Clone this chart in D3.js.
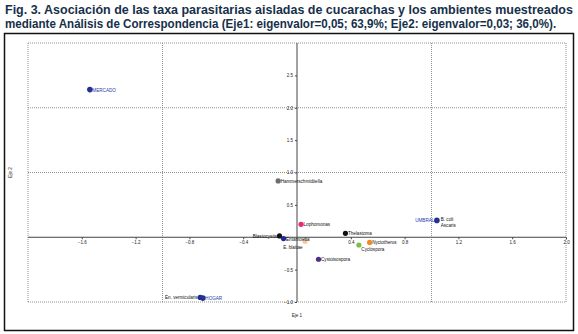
<!DOCTYPE html>
<html>
<head>
<meta charset="utf-8">
<script src="https://cdn.jsdelivr.net/npm/d3@7"></script>
<style>
  body { margin: 0; background: #fff; }
  svg { display: block; font-family: "Liberation Sans", Arial, sans-serif; }
</style>
</head>
<body>
<div id="chart"></div>
<script>
// puntos del análisis de correspondencia (taxa y ambientes)
const taxa = ["Hammerschmidtiella", "Lophomonas", "Blastocystis", "Entamoeba", "E. blattae",
    "Thelastoma", "Nyctotherus", "Cyclospora", "Cystoisospora", "En. vermicularis", "B. coli", "Ascaris"];
const taxaEje1 = [-0.14, 0.03, -0.13, -0.10, 0.06, 0.36, 0.54, 0.46, 0.16, -0.72, 1.05, 1.05];
const taxaEje2 = [0.87, 0.20, 0.02, -0.02, -0.06, 0.06, -0.08, -0.12, -0.34, -0.93, 0.27, 0.24];

const ambientes = ["MERCADO", "HOGAR", "UMBRAL"];
const ambEje1 = [-1.54, -0.70, 1.04];
const ambEje2 = [2.28, -0.94, 0.26];

const xTicks = [-1.6, -1.2, -0.8, -0.4, 0.4, 0.8, 1.2, 1.6, 2.0];
const yTicks = [-1.0, -0.5, 0.5, 1.0, 1.5, 2.0, 2.5];

const W = 578, H = 334;
const svg = d3.select("#chart").append("svg").attr("width", W).attr("height", H);

// título: letra condensada, se escala en horizontal hasta el ancho del original
const titleLines = [
    { text: "Fig. 3. Asociación de las taxa parasitarias aisladas de cucarachas y los ambientes muestreados", y: 14, width: 568 },
    { text: "mediante Análisis de Correspondencia (Eje1: eigenvalor=0,05; 63,9%; Eje2: eigenvalor=0,03; 36,0%).", y: 28, width: 551 }
];
titleLines.forEach(l => {
    const t = svg.append("text")
        .attr("x", 0).attr("y", 0)
        .style("font-size", "12.4px")
        .style("font-weight", "bold")
        .style("fill", "#16304a")
        .text(l.text);
    const len = t.node().getComputedTextLength();
    t.attr("transform", `translate(5,${l.y}) scale(${l.width / len},1)`);
});

// marco
svg.append("rect")
    .attr("x", 4.5).attr("y", 33.5).attr("width", 569).attr("height", 297)
    .attr("fill", "none").attr("stroke", "#111").attr("stroke-width", 1.5);

const x = d3.scaleLinear().domain([-2, 2]).range([28, 566]);
const y = d3.scaleLinear().domain([-1, 3]).range([302, 43]);

// cuadrícula punteada
const grid = svg.append("g")
    .attr("stroke", "#777").attr("stroke-width", 0.8).attr("stroke-dasharray", "1,1");
[-2, -1, 1, 2].forEach(v => {
    grid.append("line").attr("x1", x(v)).attr("x2", x(v)).attr("y1", y(3)).attr("y2", y(-1));
});
[-1, 1, 2, 3].forEach(v => {
    grid.append("line").attr("x1", x(-2)).attr("x2", x(2)).attr("y1", y(v)).attr("y2", y(v));
});

// ejes
const xAxis = svg.append("g")
    .attr("transform", `translate(0,${y(0)})`)
    .call(d3.axisBottom(x).tickValues(xTicks).tickSize(2).tickPadding(2).tickFormat(d3.format(".1f")));
const yAxis = svg.append("g")
    .attr("transform", `translate(${x(0)},0)`)
    .call(d3.axisLeft(y).tickValues(yTicks).tickSize(2).tickPadding(2).tickFormat(d3.format(".1f")));
[xAxis, yAxis].forEach(a => {
    a.select(".domain").attr("stroke", "#444").attr("stroke-width", 1);
    a.selectAll(".tick line").attr("stroke", "#444");
    a.selectAll(".tick text").style("font-size", "4.5px").attr("fill", "#222").attr("font-family", "Liberation Sans, Arial, sans-serif");
});
xAxis.select(".domain").attr("d", `M${x(-2)},0H${x(2)}`);
yAxis.select(".domain").attr("d", `M0,${y(3)}V${y(-1)}`);

svg.append("text").attr("x", x(0)).attr("y", 317)
    .attr("text-anchor", "middle").style("font-size", "4.5px").attr("fill", "#222").text("Eje 1");
svg.append("text").attr("transform", `translate(12,${y(1)}) rotate(-90)`)
    .attr("text-anchor", "middle").style("font-size", "4.5px").attr("fill", "#222").text("Eje 2");

// colores y posición de etiquetas
const taxaColor = d3.scaleOrdinal().domain(taxa)
    .range(["#6d6d6d", "#e8297f", "#111111", "#1f2a9c", "#f6c79a", "#111111",
        "#f08a24", "#78c142", "#4a2f8f", "#1f2a9c", "#1f2a9c", "#1f2a9c"]);
const labelLeft = new Set(["Blastocystis", "E. blattae", "En. vermicularis", "UMBRAL"]);
const labelDy = { "E. blattae": 6, "Cyclospora": 4, "B. coli": -0.5, "Ascaris": 3.5 };

const rows = taxa.map((t, i) => ({ name: t, ex: taxaEje1[i], ey: taxaEje2[i] }));
const ambRows = ambientes.map((a, i) => ({ name: a, ex: ambEje1[i], ey: ambEje2[i] }));

svg.append("g").selectAll("circle")
    .data(rows.filter(d => !["B. coli", "Ascaris"].includes(d.name)))
    .join("circle")
    .attr("cx", d => x(d.ex)).attr("cy", d => y(d.ey)).attr("r", 2.6)
    .attr("fill", d => taxaColor(d.name));

svg.append("g").selectAll("circle")
    .data(ambRows)
    .join("circle")
    .attr("cx", d => x(d.ex)).attr("cy", d => y(d.ey)).attr("r", 2.8)
    .attr("fill", "#27308f");

const labelX = d => x(d.ex) + (labelLeft.has(d.name) ? -2.5 : 2.5);
const labelY = d => y(d.ey) + 2 + (labelDy[d.name] || 0);
const anchor = d => labelLeft.has(d.name) ? "end" : "start";

svg.append("g").selectAll("text")
    .data(rows)
    .join("text")
    .attr("x", labelX).attr("y", labelY).attr("text-anchor", anchor)
    .style("font-size", "4.6px").attr("fill", "#111")
    .text(d => d.name);

svg.append("g").selectAll("text")
    .data(ambRows)
    .join("text")
    .attr("x", labelX).attr("y", labelY).attr("text-anchor", anchor)
    .style("font-size", "4.6px").attr("fill", "#2b3aa8")
    .text(d => d.name);
</script>
</body>
</html>
